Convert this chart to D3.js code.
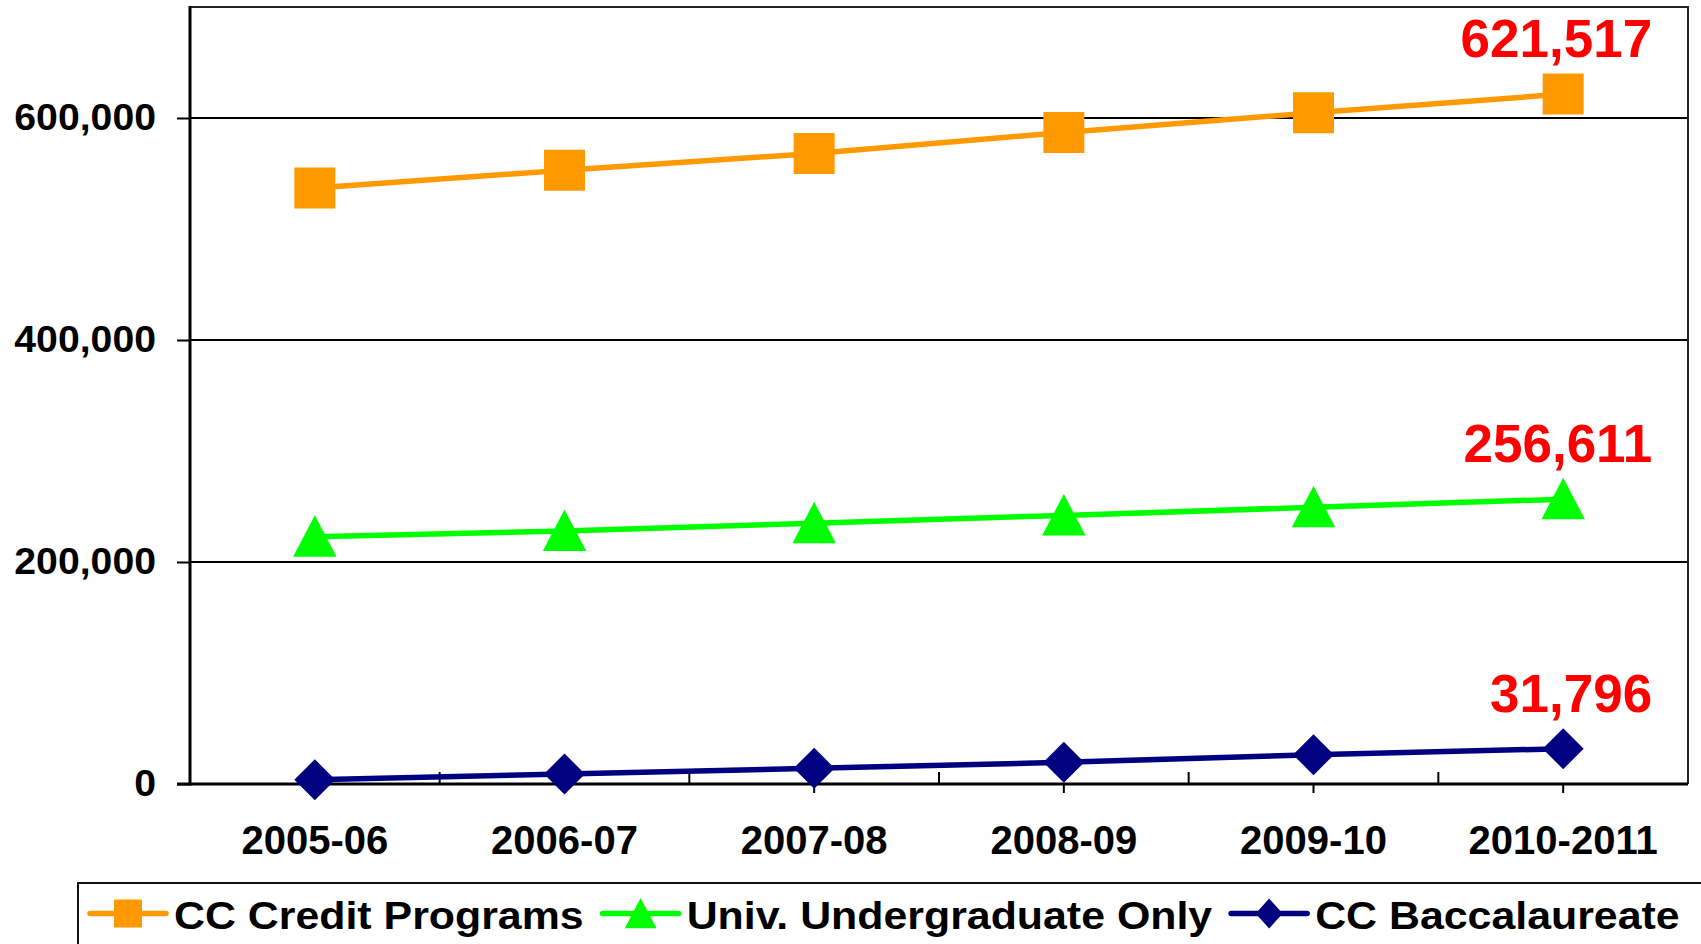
<!DOCTYPE html>
<html><head><meta charset="utf-8">
<script src="https://cdn.jsdelivr.net/npm/d3@7"></script>
<style>html,body{margin:0;padding:0;background:#fff;overflow:hidden}
text{font-family:"Liberation Sans",Arial,sans-serif;font-weight:bold}</style>
</head><body><svg id="c" width="1701" height="944"></svg>
<script>
const categories = ["2005-06","2006-07","2007-08","2008-09","2009-10","2010-2011"];
const ccCredit = [537000, 553000, 568000, 587000, 604700, 621517];
const univUndergrad = [222800, 228000, 235000, 242000, 249300, 256611];
const ccBacc = [3800, 9000, 14200, 19500, 26400, 31796];
const seriesNames = ["CC Credit Programs","Univ. Undergraduate Only","CC Baccalaureate"];
const seriesColors = ["#FF9900","#00FF00","#000080"];
const seriesShapes = ["square","triangle","diamond"];
const yTicks = [0, 200000, 400000, 600000];
const yMax = 700000;

const svg = d3.select("#c");
const L = 190, R = 1688, T = 7, B = 784;
const x = d3.scaleBand().domain(categories).range([L, R]).padding(0);
const cx = c => x(c) + x.bandwidth() / 2;
const y = d3.scaleLinear().domain([0, yMax]).range([B, T]);
const fmt = d3.format(",");

const series = [ccCredit, univUndergrad, ccBacc].map((vals, i) => ({
  name: seriesNames[i], color: seriesColors[i], shape: seriesShapes[i],
  values: vals.map((v, j) => ({c: categories[j], v}))
}));

function shapePath(shape, s) {
  if (shape === "square") return `M${-s/2},${-s/2}h${s}v${s}h${-s}Z`;
  if (shape === "triangle") return `M0,${-s*0.52}L${s*0.53},${s*0.49}L${-s*0.53},${s*0.49}Z`;
  return `M0,${-s/2}L${s/2},0L0,${s/2}L${-s/2},0Z`;
}

// gridlines
svg.append("g").selectAll("line").data(yTicks.filter(d => d > 0)).join("line")
  .attr("x1", L).attr("x2", R).attr("y1", d => y(d)).attr("y2", d => y(d))
  .attr("stroke", "#000").attr("stroke-width", 2);

// plot border top/right
svg.append("path").attr("d", `M${L},${T}H${R}V${B}`).attr("fill", "none")
  .attr("stroke", "#222").attr("stroke-width", 2);

// y axis
const ya = svg.append("g").attr("transform", `translate(${L},0)`)
  .call(d3.axisLeft(y).tickValues(yTicks).tickSize(13).tickSizeOuter(0).tickFormat(fmt));
ya.select(".domain").remove();
ya.selectAll(".tick line").attr("stroke", "#000").attr("stroke-width", 2);
ya.selectAll(".tick text").attr("x", 0)
  .attr("transform", "translate(-34,0) scale(1.06,1)")
  .attr("font-size", 37).attr("fill", "#000")
  .style("font-family", "'Liberation Sans',Arial,sans-serif").style("font-weight", "bold");
svg.append("line").attr("x1", L).attr("x2", L).attr("y1", T - 1).attr("y2", B + 1.5)
  .attr("stroke", "#000").attr("stroke-width", 3);

// x axis
const xa = svg.append("g").attr("transform", `translate(0,${B})`)
  .call(d3.axisBottom(x).tickSize(9).tickSizeOuter(0));
xa.select(".domain").remove();
xa.selectAll(".tick line").attr("stroke", "#000").attr("stroke-width", 2);
xa.selectAll(".tick text").attr("y", 70).attr("dy", 0)
  .attr("font-size", 40).attr("fill", "#000")
  .style("font-family", "'Liberation Sans',Arial,sans-serif").style("font-weight", "bold");
// boundary ticks (inside)
svg.append("g").selectAll("line").data(categories.slice(1)).join("line")
  .attr("x1", d => x(d)).attr("x2", d => x(d)).attr("y1", B - 12).attr("y2", B)
  .attr("stroke", "#000").attr("stroke-width", 2);
svg.append("line").attr("x1", L - 13).attr("x2", R).attr("y1", B).attr("y2", B)
  .attr("stroke", "#000").attr("stroke-width", 3);

// lines and markers
const line = d3.line().x(d => cx(d.c)).y(d => y(d.v));
series.forEach(s => {
  svg.append("path").datum(s.values).attr("d", line).attr("fill", "none")
    .attr("stroke", s.color).attr("stroke-width", 5.5);
});
series.forEach(s => {
  svg.append("g").selectAll("path").data(s.values).join("path")
    .attr("transform", d => `translate(${cx(d.c)},${y(d.v)})`)
    .attr("d", shapePath(s.shape, 41)).attr("fill", s.color);
});

// end labels
svg.append("g").selectAll("text").data(series).join("text")
  .attr("x", s => cx(s.values[s.values.length - 1].c) + 89)
  .attr("y", s => y(s.values[s.values.length - 1].v) - 37)
  .attr("text-anchor", "end").attr("font-size", 53).attr("fill", "#FF0000")
  .text(s => fmt(s.values[s.values.length - 1].v));

// legend
svg.append("rect").attr("x", 78).attr("y", 883).attr("width", 1700).attr("height", 120)
  .attr("fill", "none").attr("stroke", "#111").attr("stroke-width", 2);
let lx = 90;
const ly = 913.5, sx = 1.128;
series.forEach(s => {
  const g = svg.append("g");
  g.append("line").attr("x1", lx).attr("x2", lx + 76).attr("y1", ly).attr("y2", ly)
    .attr("stroke", s.color).attr("stroke-width", 5.5).attr("stroke-linecap", "round");
  const ms = s.shape === "square" ? 28 : 30;
  g.append("path").attr("transform", `translate(${lx + 38},${ly})` + (s.shape === "diamond" ? " scale(0.9,1)" : ""))
    .attr("d", shapePath(s.shape, ms)).attr("fill", s.color);
  const t = g.append("text").attr("transform", `translate(${lx + 84},929) scale(${sx},1)`)
    .attr("font-size", 38).attr("fill", "#000").text(s.name);
  const w = t.node().getComputedTextLength() * sx;
  lx = lx + 84 + w + 19;
});
</script></body></html>
